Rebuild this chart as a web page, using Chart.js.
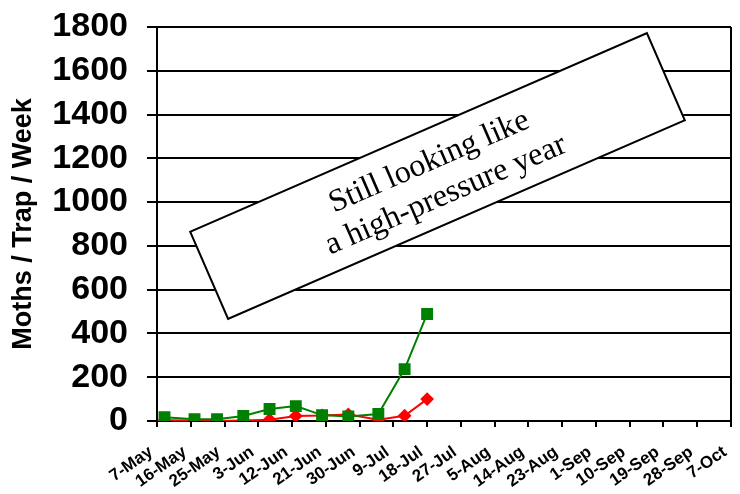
<!DOCTYPE html>
<html>
<head>
<meta charset="utf-8">
<script src="https://cdn.jsdelivr.net/npm/chart.js@4/dist/chart.umd.min.js"></script>
<style>
  html, body { margin: 0; padding: 0; background: #fff; }
  #wrap { width: 740px; height: 494px; position: relative; }
</style>
</head>
<body>
<div id="wrap"><canvas id="mothChart"></canvas></div>
<script>
// axis ticks, every 9 days from 7-May
const tickLabels = ["7-May", "16-May", "25-May", "3-Jun", "12-Jun", "21-Jun", "30-Jun", "9-Jul", "18-Jul",
  "27-Jul", "5-Aug", "14-Aug", "23-Aug", "1-Sep", "10-Sep", "19-Sep", "28-Sep", "7-Oct"];
const yTicks = [0, 200, 400, 600, 800, 1000, 1200, 1400, 1600, 1800];

// weekly trap dates
const trapDates = ["9-May", "17-May", "23-May", "30-May", "6-Jun", "13-Jun", "20-Jun", "27-Jun", "5-Jul", "12-Jul", "18-Jul"];
const greenCounts = [17, 8, 8, 23, 55, 68, 27, 21, 32, 237, 489];
const redCounts = [3, 2, 0, 2, 6, 23, 25, 30, 6, 24, 100];

const noteLines = ["Still looking like", "a high-pressure year"];

const months = ["Jan", "Feb", "Mar", "Apr", "May", "Jun", "Jul", "Aug", "Sep", "Oct", "Nov", "Dec"];
function dayOf(s) {
  const [d, m] = s.split("-");
  const t = Date.UTC(2011, months.indexOf(m), +d);
  return Math.round((t - Date.UTC(2011, 4, 7)) / 864e5);
}
const lastDay = dayOf(tickLabels[tickLabels.length - 1]);

function toPoints(vals) {
  return trapDates.map((s, i) => ({ x: dayOf(s), y: vals[i] }));
}

// rotated text box + plot border
const notePlugin = {
  id: "note",
  afterDraw(chart) {
    const ctx = chart.ctx;
    const a = chart.chartArea;
    ctx.save();
    ctx.strokeStyle = "#000";
    ctx.lineWidth = 2;
    ctx.beginPath();
    ctx.moveTo(a.right, a.top);
    ctx.lineTo(a.right, a.bottom);
    ctx.stroke();

    ctx.translate(437.5, 176);
    ctx.rotate(-23.5 * Math.PI / 180);
    ctx.fillStyle = "#fff";
    ctx.fillRect(-249, -47.5, 498, 95);
    ctx.strokeRect(-249, -47.5, 498, 95);
    ctx.fillStyle = "#000";
    ctx.font = '32px "Liberation Serif", "Times New Roman", serif';
    ctx.textAlign = "center";
    ctx.textBaseline = "middle";
    ctx.fillText(noteLines[0], -2, -16);
    ctx.fillText(noteLines[1], 0, 21);
    ctx.restore();
  }
};

const sans = '"Liberation Sans", Arial, sans-serif';

new Chart(document.getElementById("mothChart"), {
  type: "line",
  data: {
    datasets: [
      {
        label: "Trap A",
        data: toPoints(greenCounts),
        borderColor: "#008000",
        backgroundColor: "#008000",
        borderWidth: 2,
        pointStyle: "rect",
        pointRadius: 7,
        pointHoverRadius: 7,
        tension: 0
      },
      {
        label: "Trap B",
        data: toPoints(redCounts),
        borderColor: "#ff0000",
        backgroundColor: "#ff0000",
        borderWidth: 2,
        pointStyle: "rectRot",
        pointRadius: 5.5,
        pointHoverRadius: 5.5,
        tension: 0
      }
    ]
  },
  options: {
    responsive: true,
    maintainAspectRatio: false,
    animation: false,
    layout: { padding: { top: 0, right: 3, left: 0, bottom: 0 } },
    plugins: {
      legend: { display: false },
      tooltip: { enabled: false }
    },
    scales: {
      x: {
        type: "linear",
        min: 0,
        max: lastDay,
        afterBuildTicks: (axis) => {
          axis.ticks = tickLabels.map((l) => ({ value: dayOf(l) }));
        },
        ticks: {
          autoSkip: false,
          minRotation: 35,
          maxRotation: 35,
          padding: 15,
          labelOffset: -6,
          color: "#000",
          font: { family: sans, size: 17, weight: "bold" },
          callback: (v, i) => tickLabels[i]
        },
        grid: {
          drawOnChartArea: false,
          drawTicks: true,
          tickLength: 6,
          color: "#000",
          lineWidth: 2
        },
        border: { color: "#000", width: 2 },
        afterFit: (axis) => {
          axis.height = 73;
          axis.paddingRight = 0;
          axis.paddingLeft = 0;
        }
      },
      y: {
        min: 0,
        max: 1800,
        afterBuildTicks: (axis) => {
          axis.ticks = yTicks.map((v) => ({ value: v }));
        },
        ticks: {
          autoSkip: false,
          padding: 19,
          color: "#000",
          font: { family: sans, size: 34, weight: "bold" },
          callback: (v) => String(v)
        },
        grid: {
          color: "#000",
          lineWidth: 2,
          tickLength: 10
        },
        border: { color: "#000", width: 2 },
        title: {
          display: true,
          text: "Moths / Trap / Week",
          color: "#000",
          padding: { top: 7, bottom: 0 },
          font: { family: sans, size: 27, weight: "bold" }
        },
        afterFit: (axis) => {
          axis.width = 157;
          axis.paddingTop = 27;
          axis.paddingBottom = 0;
        }
      }
    }
  },
  plugins: [notePlugin]
});
</script>
</body>
</html>
